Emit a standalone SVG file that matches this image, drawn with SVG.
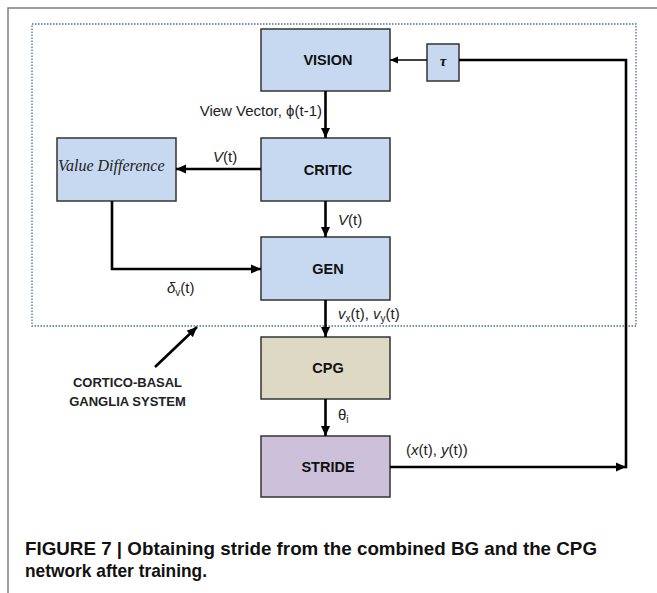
<svg xmlns="http://www.w3.org/2000/svg" width="657" height="593" viewBox="0 0 657 593">
  <style>
    .box { stroke: #333333; stroke-width: 1.5; }
    .blue { fill: #c6d9f0; }
    .beige { fill: #ddd9c4; }
    .purple { fill: #ccc0da; }
    .lbl { font-family: "Liberation Sans", Arial, sans-serif; font-weight: bold; font-size: 14.5px; fill: #111; text-anchor: middle; }
    .t { font-family: "Liberation Sans", Arial, sans-serif; font-size: 15px; fill: #222; }
    .conn { fill: none; stroke: #000; stroke-width: 2.6; }
    .thin { fill: none; stroke: #000; stroke-width: 1.6; }
    .cap { font-family: "Liberation Sans", Arial, sans-serif; font-weight: bold; font-size: 19px; fill: #111; }
  </style>
  <defs>
    <marker id="ah" markerUnits="userSpaceOnUse" markerWidth="10" markerHeight="10" refX="10" refY="5" orient="auto">
      <path d="M0,0.5 L10,5 L0,9.5 z" fill="#000"/>
    </marker>
    <marker id="ahs" markerUnits="userSpaceOnUse" markerWidth="8" markerHeight="8" refX="8" refY="4" orient="auto">
      <path d="M0,0.5 L8,4 L0,7.5 z" fill="#000"/>
    </marker>
  </defs>
  <rect width="657" height="593" fill="#ffffff"/>
  <!-- frame -->
  <path d="M8,593 V8 H657" fill="none" stroke="#7f7f7f" stroke-width="1.5"/>
  <!-- dotted system boundary -->
  <g id="cortico-basal-boundary">
    <rect x="32" y="24" width="604" height="302" fill="none" stroke="#4f6d99" stroke-width="1.3" stroke-dasharray="1.5 1.5"/>
  </g>

  <g id="vision">
    <rect class="box blue" x="261" y="29" width="129" height="62"/>
    <text class="lbl" x="328" y="65">VISION</text>
  </g>
  <g id="critic">
    <rect class="box blue" x="261" y="138" width="129" height="63"/>
    <text class="lbl" x="328" y="174.5">CRITIC</text>
  </g>
  <g id="value-difference">
    <rect class="box blue" x="57" y="138" width="119" height="63"/>
    <text x="58" y="171" font-family="Liberation Serif, 'Times New Roman', serif" font-style="italic" font-size="16px" fill="#222">Value Difference</text>
  </g>
  <g id="gen">
    <rect class="box blue" x="261" y="237" width="129" height="63"/>
    <text class="lbl" x="328" y="273.5">GEN</text>
  </g>
  <g id="cpg">
    <rect class="box beige" x="261" y="337" width="129" height="62"/>
    <text class="lbl" x="328" y="373">CPG</text>
  </g>
  <g id="stride">
    <rect class="box purple" x="261" y="436" width="129" height="61"/>
    <text class="lbl" x="328" y="471.5">STRIDE</text>
  </g>
  <g id="tau">
    <rect class="box blue" x="427" y="44" width="32" height="37"/>
    <text x="443" y="66" text-anchor="middle" font-family="Liberation Serif, serif" font-weight="bold" font-style="italic" font-size="15px" fill="#111">τ</text>
  </g>

  <g id="connectors">
    <line class="conn" x1="325.5" y1="91" x2="325.5" y2="138" marker-end="url(#ah)"/>
    <line class="conn" x1="261" y1="169" x2="176" y2="169" marker-end="url(#ah)"/>
    <line class="conn" x1="325.5" y1="201" x2="325.5" y2="237" marker-end="url(#ah)"/>
    <path class="conn" d="M112,201 V269 H261" marker-end="url(#ah)"/>
    <line class="conn" x1="325.5" y1="300" x2="325.5" y2="337" marker-end="url(#ah)"/>
    <line class="conn" x1="325.5" y1="399" x2="325.5" y2="436" marker-end="url(#ah)"/>
    <line class="conn" x1="390" y1="467" x2="626" y2="467" marker-end="url(#ah)"/>
    <path class="conn" d="M626,468.3 V60 H459"/>
    <line class="thin" x1="427" y1="60" x2="390" y2="60" marker-end="url(#ahs)"/>
    <line class="conn" x1="155" y1="367" x2="197" y2="327" marker-end="url(#ah)"/>
  </g>

  <g id="labels">
    <text class="t" x="322" y="116" text-anchor="end">View Vector, ϕ(t-1)</text>
    <text class="t" x="213" y="162"><tspan font-style="italic">V</tspan>(t)</text>
    <text class="t" x="338" y="225"><tspan font-style="italic">V</tspan>(t)</text>
    <text class="t" x="167" y="293"><tspan font-style="italic">δ</tspan><tspan font-size="10px" dy="3">v</tspan><tspan dy="-3">(t)</tspan></text>
    <text class="t" x="338" y="319"><tspan font-style="italic">v</tspan><tspan font-size="10px" dy="3">x</tspan><tspan dy="-3">(t), </tspan><tspan font-style="italic">v</tspan><tspan font-size="10px" dy="3">y</tspan><tspan dy="-3">(t)</tspan></text>
    <text class="t" x="338" y="420">θ<tspan font-size="10px" dy="3">i</tspan></text>
    <text class="t" x="406" y="455">(<tspan font-style="italic">x</tspan>(t), <tspan font-style="italic">y</tspan>(t))</text>
    <text x="127.5" y="387" text-anchor="middle" font-family="Liberation Sans, Arial, sans-serif" font-weight="bold" font-size="13px" fill="#222">CORTICO-BASAL</text>
    <text x="127.5" y="406" text-anchor="middle" font-family="Liberation Sans, Arial, sans-serif" font-weight="bold" font-size="13px" fill="#222">GANGLIA SYSTEM</text>
  </g>

  <g id="caption">
    <text class="cap" x="25" y="555" textLength="572" lengthAdjust="spacingAndGlyphs">FIGURE 7 | Obtaining stride from the combined BG and the CPG</text>
    <text class="cap" x="25" y="577" textLength="182" lengthAdjust="spacingAndGlyphs">network after training.</text>
  </g>
</svg>
